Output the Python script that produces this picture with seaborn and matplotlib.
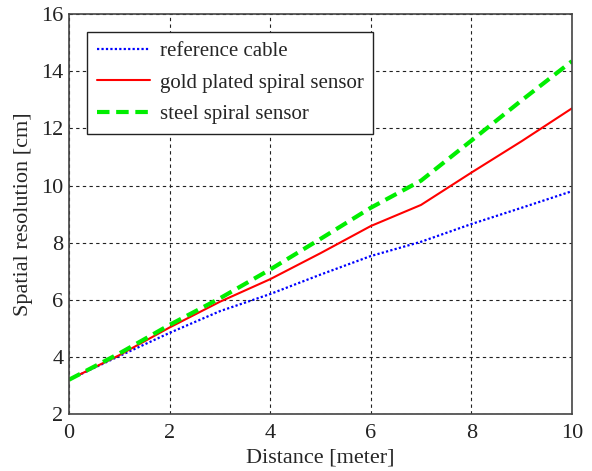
import numpy as np
import pandas as pd
import matplotlib
matplotlib.use("Agg")
import matplotlib.pyplot as plt
import seaborn as sns

# Spatial resolution versus distance for three sensor types
distance = [0, 1, 2, 3, 4, 5, 6, 7, 8, 9, 10]
reference_cable = [3.2, 4.03, 4.84, 5.6, 6.2, 6.88, 7.53, 8.03, 8.65, 9.22, 9.8]
gold_spiral = [3.2, 4.06, 5.03, 5.93, 6.72, 7.63, 8.58, 9.32, 10.45, 11.55, 12.7]
steel_spiral = [3.2, 4.12, 5.12, 6.05, 7.06, 8.13, 9.22, 10.17, 11.57, 12.98, 14.35]

series_names = ["reference cable", "gold plated spiral sensor", "steel spiral sensor"]
series_values = [reference_cable, gold_spiral, steel_spiral]
x_ticks = [0, 2, 4, 6, 8, 10]
y_ticks = [2, 4, 6, 8, 10, 12, 14, 16]

sns.set_theme(style="white")
plt.rcParams["font.family"] = ["Liberation Serif", "DejaVu Serif"]

fig = plt.figure(figsize=(5.92, 4.71), dpi=100)
ax = fig.add_axes([0.1166, 0.121, 0.8494, 0.849])

styles = [
    dict(color="#0000ff", linestyle=(0, (1, 1)), linewidth=1.6),
    dict(color="#ff0000", linestyle="-", linewidth=1.5),
    dict(color="#00ee00", linestyle=(0, (3, 1.6)), linewidth=3.0),
]

for name, vals, st in zip(series_names, series_values, styles):
    df = pd.DataFrame({"Distance": distance, "Resolution": vals})
    sns.lineplot(data=df, x="Distance", y="Resolution", ax=ax, label=name, **st)

ax.set_xlim(0, 10)
ax.set_ylim(2, 16)
ax.set_xticks(x_ticks)
ax.set_yticks(y_ticks)
ax.tick_params(axis="both", direction="in", length=4, labelsize=16,
               colors="#222222")
ax.tick_params(axis="x", pad=7)
ax.tick_params(axis="y", pad=4)
ax.set_xlabel("Distance [meter]", fontsize=16, labelpad=4)
ax.set_ylabel("Spatial resolution [cm]", fontsize=16, labelpad=6)
ax.grid(True, color="#222222", linestyle=(0, (3, 3)), linewidth=0.8)
for sp in ax.spines.values():
    sp.set_color("#444444")
    sp.set_linewidth(1.2)

leg = ax.legend(loc="upper left", bbox_to_anchor=(0.036, 0.955), fontsize=15,
                frameon=True, fancybox=False, edgecolor="#222222",
                handlelength=2.55, borderpad=0.45, labelspacing=0.58,
                handletextpad=0.5, borderaxespad=0.0)
leg.get_frame().set_linewidth(1.0)
leg.get_frame().set_alpha(1.0)

fig.savefig("out.png", dpi=100)
